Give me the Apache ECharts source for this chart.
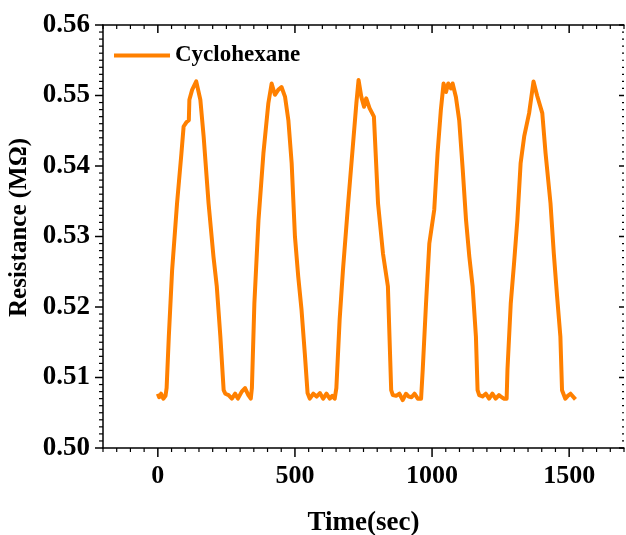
<!DOCTYPE html>
<html>
<head>
<meta charset="utf-8">
<script src="https://cdn.jsdelivr.net/npm/echarts@6/dist/echarts.min.js"></script>
<style>
  html, body { margin: 0; padding: 0; background: #fff; }
  #chart { width: 626px; height: 535px; }
</style>
</head>
<body>
<div id="chart"></div>
<script>
// Cyclic response of the sensor to cyclohexane vapour
const seriesName = 'Cyclohexane';

const timeSec = [
  0, 5, 12, 20, 28, 32, 40, 52, 70, 86, 94, 104, 113, 115, 125, 140, 155, 167, 185, 203, 215, 228, 240, 246,
  258, 270, 282, 292, 306, 318, 330, 339,
  343, 352, 367, 385, 403, 415, 427, 439, 451, 464, 476, 488, 500, 512, 524, 536, 546,
  554, 567, 579, 591, 603, 615, 627, 636, 645,
  651, 663, 675, 694, 712, 724, 732, 742, 752, 760, 772, 788, 803, 821, 839, 851,
  857, 869, 881, 893, 905, 915, 925, 936, 948, 960,
  966, 978, 990, 1008, 1020, 1032, 1042, 1051, 1059, 1069, 1075, 1087, 1099, 1112, 1124, 1136, 1148, 1160, 1166,
  1172, 1184, 1196, 1208, 1220, 1232, 1244, 1254, 1263, 1272,
  1275, 1287, 1299, 1311, 1323, 1336, 1354, 1370, 1383, 1402, 1414, 1432, 1444, 1456, 1468, 1474,
  1486, 1495, 1505, 1523
];

const resistance = [
  0.5077, 0.5072, 0.5077, 0.5070, 0.5074, 0.5085, 0.5158, 0.5252, 0.5347, 0.5418, 0.5456, 0.5462, 0.5465, 0.5494, 0.5508, 0.5520, 0.5494, 0.5442, 0.5347, 0.5271, 0.5229, 0.5158, 0.5082, 0.5077,
  0.5075, 0.5070, 0.5077, 0.5070, 0.5080, 0.5085, 0.5075, 0.5070,
  0.5085, 0.5205, 0.5323, 0.5418, 0.5489, 0.5517, 0.5501, 0.5508, 0.5512, 0.5498, 0.5465, 0.5404, 0.5300, 0.5243, 0.5196, 0.5134, 0.5078,
  0.5070, 0.5077, 0.5073, 0.5078, 0.5070, 0.5077, 0.5070, 0.5074, 0.5070,
  0.5085, 0.5182, 0.5252, 0.5347, 0.5432, 0.5489, 0.5522, 0.5498, 0.5484, 0.5496, 0.5482, 0.5470, 0.5347, 0.5276, 0.5229, 0.5082,
  0.5075, 0.5074, 0.5077, 0.5068, 0.5077, 0.5073, 0.5072, 0.5077, 0.5070, 0.5070,
  0.5111, 0.5205, 0.5290, 0.5338, 0.5418, 0.5479, 0.5517, 0.5505, 0.5517, 0.5510, 0.5517, 0.5498, 0.5465, 0.5394, 0.5323, 0.5271, 0.5229, 0.5158, 0.5082,
  0.5075, 0.5073, 0.5077, 0.5070, 0.5077, 0.5070, 0.5075, 0.5072, 0.5070, 0.5070,
  0.5111, 0.5205, 0.5262, 0.5323, 0.5404, 0.5442, 0.5475, 0.5520, 0.5500, 0.5475, 0.5418, 0.5347, 0.5276, 0.5215, 0.5158, 0.5082,
  0.5070, 0.5074, 0.5077, 0.5069
];

// x axis: range, minor step and labelled major step
const X_MIN = -200, X_MAX = 1700, X_MINOR = 50, X_MAJOR = 500;
// y axis: range, labelled step; minor ticks split each step in ten
const Y_MIN = 0.50, Y_MAX = 0.56, Y_STEP = 0.01, Y_SPLIT = 10;

const FONT = '"Liberation Serif", "Times New Roman", serif';
const BLACK = '#000';
const isMajorX = v => Math.round(v) % X_MAJOR === 0;
const boldText = size => ({ color: BLACK, fontFamily: FONT, fontWeight: 'bold', fontSize: size });

// tick positions in data units: [x, y, isMajor]
const xTickData = [];
for (let v = X_MIN; v <= X_MAX; v += X_MINOR) xTickData.push([v, Y_MIN, isMajorX(v) ? 1 : 0]);
const yTickData = [];
const yCount = Math.round((Y_MAX - Y_MIN) / Y_STEP) * Y_SPLIT;
for (let k = 0; k <= yCount; k++) {
  yTickData.push([X_MIN, +(Y_MIN + k * Y_STEP / Y_SPLIT).toFixed(4), k % Y_SPLIT === 0 ? 1 : 0]);
}

// one tick per data item; side says where the mark sits and which way it points
function tickSeries(data, side, majorLen, minorLen) {
  return {
    type: 'custom',
    coordinateSystem: 'cartesian2d',
    xAxisIndex: 0,
    yAxisIndex: 0,
    silent: true,
    clip: false,
    z: 5,
    data: data,
    encode: { x: 0, y: 1 },
    renderItem: (params, api) => {
      const major = api.value(2) === 1;
      const len = major ? majorLen : minorLen;
      let p, shape;
      if (side === 'bottom') {
        p = api.coord([api.value(0), Y_MIN]);
        shape = { x1: p[0], y1: p[1], x2: p[0], y2: p[1] + len };
      } else if (side === 'top') {
        p = api.coord([api.value(0), Y_MAX]);
        shape = { x1: p[0], y1: p[1], x2: p[0], y2: p[1] + len };
      } else if (side === 'left') {
        p = api.coord([X_MIN, api.value(1)]);
        shape = { x1: p[0] - len, y1: p[1], x2: p[0], y2: p[1] };
      } else {
        p = api.coord([X_MAX, api.value(1)]);
        shape = { x1: p[0] - len, y1: p[1], x2: p[0], y2: p[1] };
      }
      return {
        type: 'line',
        shape: shape,
        style: { stroke: BLACK, lineWidth: major ? 1.5 : 1.2 }
      };
    }
  };
}

const chart = echarts.init(document.getElementById('chart'));

chart.setOption({
  backgroundColor: '#fff',
  animation: false,
  grid: { left: 103, right: 2, top: 25, bottom: 87, outerBoundsMode: 'none' },
  legend: {
    data: [seriesName],
    left: 109,
    top: 39,
    icon: 'rect',
    itemWidth: 56,
    itemHeight: 4,
    textStyle: boldText(23)
  },
  xAxis: [
    {
      type: 'value', position: 'bottom',
      min: X_MIN, max: X_MAX, interval: X_MINOR,
      splitLine: { show: false },
      axisLine: { show: true, onZero: false, lineStyle: { color: BLACK, width: 1.5 } },
      axisTick: { show: false },
      axisLabel: Object.assign({ margin: 15, formatter: v => (isMajorX(v) ? String(Math.round(v)) : '') }, boldText(26)),
      name: 'Time(sec)',
      nameLocation: 'middle',
      nameGap: 62,
      nameTextStyle: boldText(27)
    },
    {
      type: 'value', position: 'top',
      min: X_MIN, max: X_MAX, interval: X_MINOR,
      splitLine: { show: false },
      axisLine: { show: true, onZero: false, lineStyle: { color: BLACK, width: 1.5 } },
      axisTick: { show: false },
      axisLabel: { show: false }
    }
  ],
  yAxis: [
    {
      type: 'value', position: 'left',
      min: Y_MIN, max: Y_MAX, interval: Y_STEP,
      splitLine: { show: false },
      axisLine: { show: true, onZero: false, lineStyle: { color: BLACK, width: 1.5 } },
      axisTick: { show: false },
      axisLabel: Object.assign({ margin: 13, formatter: v => v.toFixed(2) }, boldText(27)),
      name: 'Resistance (MΩ)',
      nameLocation: 'middle',
      nameGap: 63,
      nameTextStyle: Object.assign({ padding: [0, 0, 0, 18] }, boldText(25))
    }
  ],
  series: [
    {
      name: seriesName,
      type: 'line',
      xAxisIndex: 0,
      yAxisIndex: 0,
      data: timeSec.map((t, i) => [t, resistance[i]]),
      showSymbol: false,
      symbol: 'none',
      lineStyle: { color: '#ff8000', width: 4, join: 'round' },
      itemStyle: { color: '#ff8000' }
    },
    tickSeries(xTickData, 'bottom', 9, 4),
    tickSeries(xTickData, 'top', 8, 4),
    tickSeries(yTickData, 'left', 8, 4),
    tickSeries(yTickData, 'right', 5, 2)
  ]
});
</script>
</body>
</html>
